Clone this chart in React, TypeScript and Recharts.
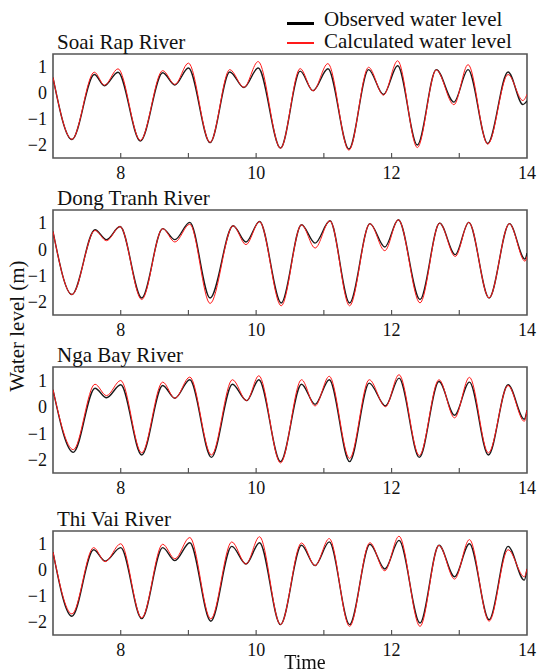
import React from 'react'
import { LineChart, Line, XAxis, YAxis, ReferenceArea, ReferenceLine } from 'recharts'

// extremum times (days) and water levels (m)
const soaiTime = [7.0, 7.28, 7.61, 7.76, 7.96, 8.29, 8.62, 8.8, 9.0, 9.32, 9.61, 9.82, 10.03, 10.36, 10.65, 10.84, 11.06, 11.37, 11.66, 11.88, 12.09, 12.38, 12.66, 12.92, 13.13, 13.42, 13.72, 13.94, 14.0]
const soaiObs = [0.59, -1.79, 0.71, 0.28, 0.8, -1.85, 0.78, 0.31, 0.96, -1.91, 0.81, 0.21, 0.96, -2.12, 0.84, 0.09, 0.93, -2.16, 0.9, -0.06, 1.05, -2.0, 0.9, -0.35, 0.9, -1.94, 0.81, -0.44, -0.3]
const soaiCalc = [0.6, -1.78, 0.8, 0.3, 0.93, -1.82, 0.86, 0.33, 1.15, -1.9, 0.9, 0.22, 1.21, -2.13, 0.94, 0.08, 1.13, -2.2, 0.99, -0.08, 1.24, -2.1, 0.89, -0.45, 1.09, -1.97, 0.71, -0.29, -0.05]

const dongTime = [7.0, 7.28, 7.62, 7.79, 7.99, 8.31, 8.62, 8.8, 9.02, 9.32, 9.66, 9.85, 10.05, 10.37, 10.67, 10.87, 11.09, 11.38, 11.68, 11.9, 12.1, 12.42, 12.71, 12.94, 13.14, 13.44, 13.74, 13.97, 14.0]
const dongObs = [0.68, -1.72, 0.75, 0.37, 0.87, -1.85, 0.79, 0.37, 1.03, -1.85, 0.9, 0.28, 1.06, -2.04, 0.94, 0.24, 1.09, -2.04, 0.98, 0.09, 1.13, -1.91, 1.0, -0.2, 1.03, -1.85, 0.98, -0.37, -0.14]
const dongCalc = [0.68, -1.72, 0.72, 0.33, 0.87, -1.91, 0.79, 0.28, 0.96, -2.06, 0.9, 0.18, 1.06, -2.15, 0.94, 0.05, 1.09, -2.15, 0.98, -0.05, 1.13, -2.04, 1.0, -0.27, 1.03, -1.85, 0.98, -0.45, -0.27]

const ngaTime = [7.0, 7.3, 7.62, 7.79, 8.0, 8.31, 8.62, 8.8, 9.02, 9.34, 9.65, 9.86, 10.04, 10.36, 10.67, 10.87, 11.08, 11.38, 11.67, 11.91, 12.11, 12.41, 12.7, 12.93, 13.15, 13.43, 13.72, 13.96, 14.0]
const ngaObs = [0.64, -1.72, 0.7, 0.34, 0.83, -1.82, 0.8, 0.32, 1.02, -1.91, 0.85, 0.23, 1.02, -2.07, 0.85, 0.09, 1.02, -2.07, 0.89, 0.03, 1.08, -1.91, 0.95, -0.32, 0.93, -1.82, 0.83, -0.47, -0.13]
const ngaCalc = [0.64, -1.62, 0.85, 0.42, 0.99, -1.74, 0.93, 0.32, 1.12, -1.82, 1.02, 0.23, 1.17, -2.12, 1.02, 0.03, 1.15, -1.95, 1.02, 0.0, 1.21, -1.84, 1.02, -0.42, 1.11, -1.74, 0.8, -0.55, -0.13]

const thiTime = [7.0, 7.28, 7.6, 7.77, 8.0, 8.31, 8.62, 8.8, 9.02, 9.33, 9.64, 9.85, 10.05, 10.36, 10.67, 10.87, 11.08, 11.38, 11.68, 11.9, 12.11, 12.42, 12.7, 12.93, 13.15, 13.44, 13.72, 13.96, 14.0]
const thiObs = [0.69, -1.78, 0.78, 0.34, 0.86, -1.87, 0.86, 0.36, 1.05, -1.97, 0.91, 0.23, 1.05, -2.1, 0.95, 0.17, 1.08, -2.1, 0.99, 0.04, 1.14, -2.04, 0.95, -0.26, 1.01, -1.91, 0.91, -0.39, 0.04]
const thiCalc = [0.69, -1.69, 0.86, 0.32, 1.01, -1.84, 0.99, 0.43, 1.25, -1.88, 1.08, 0.23, 1.28, -2.1, 1.04, 0.17, 1.21, -2.17, 1.05, -0.03, 1.3, -2.17, 0.95, -0.35, 1.17, -1.97, 0.78, -0.26, 0.04]

const xLabelTicks = [8, 10, 12, 14]
const xMinorTicks = [8, 9, 10, 11, 12, 13]
const yTicks = [-2, -1, 0, 1]
const xDomain: [number, number] = [7, 14]
const yDomain: [number, number] = [-2.5, 1.5]

const font = '"Liberation Serif", "Times New Roman", serif'

const toPoints = (t: number[], v: number[]) => t.map((x, i) => ({ t: x, v: v[i] }))

const panels = [
  { title: 'Soai Rap River', time: soaiTime, obs: soaiObs, calc: soaiCalc, top: 54, h: 104 },
  { title: 'Dong Tranh River', time: dongTime, obs: dongObs, calc: dongCalc, top: 210, h: 105 },
  { title: 'Nga Bay River', time: ngaTime, obs: ngaObs, calc: ngaCalc, top: 367, h: 106 },
  { title: 'Thi Vai River', time: thiTime, obs: thiObs, calc: thiCalc, top: 531, h: 104 },
]

// serif tick text, minus sign as in the figure
const SerifTick = (props: any) => {
  const { x, y, payload, textAnchor, orientation } = props
  const label = String(payload.value).replace('-', '\u2212')
  return (
    <text x={x} y={y} textAnchor={textAnchor} dy={orientation === 'left' ? '0.35em' : '0.71em'}
      style={{ fontFamily: font, fontSize: 18, fill: '#111' }}>
      {label}
    </text>
  )
}

const Panel = ({ p }: { p: typeof panels[number] }) => {
  const padTop = 10
  const tickLen = 5 / (p.h / (yDomain[1] - yDomain[0]))
  return (
    <div style={{ position: 'absolute', left: 0, top: p.top - padTop, width: 540 }}>
      <LineChart width={540} height={p.h + padTop + 32} margin={{ top: padTop, right: 13, bottom: 0, left: 13 }}>
        <XAxis dataKey="t" type="number" domain={xDomain} ticks={xLabelTicks} allowDataOverflow interval={0}
          tickLine={false} tickSize={0} axisLine={false} tickMargin={8} height={32} tick={<SerifTick />} />
        <YAxis type="number" domain={yDomain} ticks={yTicks} allowDataOverflow width={40} interval={0}
          tickLine={false} tickSize={0} axisLine={false} tickMargin={6} tick={<SerifTick />} />
        <ReferenceArea x1={xDomain[0]} x2={xDomain[1]} y1={yDomain[0]} y2={yDomain[1]}
          fill="none" fillOpacity={0} stroke="#555" strokeWidth={1.6} ifOverflow="visible" />
        {xMinorTicks.map(x => (
          <ReferenceLine key={x} segment={[{ x, y: yDomain[0] }, { x, y: yDomain[0] + tickLen }]}
            stroke="#555" strokeWidth={1.2} ifOverflow="visible" />
        ))}
        <Line data={toPoints(p.time, p.obs)} dataKey="v" type="monotone" stroke="#1a1a1a" strokeWidth={1.4}
          dot={false} isAnimationActive={false} />
        <Line data={toPoints(p.time, p.calc)} dataKey="v" type="monotone" stroke="#ff1a1a" strokeWidth={1}
          dot={false} isAnimationActive={false} />
      </LineChart>
      <div style={{ position: 'absolute', left: 57, top: padTop - 21, fontSize: 21, lineHeight: '19px', whiteSpace: 'nowrap', color: '#111' }}>
        {p.title}
      </div>
    </div>
  )
}

export default function App() {
  return (
    <div style={{ position: 'fixed', left: 0, top: 0, width: 540, height: 672, background: '#fff', fontFamily: font }}>
      {/* legend */}
      <div style={{ position: 'absolute', left: 287, top: 22, width: 27, height: 3, background: '#000' }} />
      <div style={{ position: 'absolute', left: 324, top: 10, fontSize: 21, lineHeight: '19px', whiteSpace: 'nowrap', color: '#111' }}>Observed water level</div>
      <div style={{ position: 'absolute', left: 287, top: 42, width: 27, height: 1.5, background: '#ff1a1a' }} />
      <div style={{ position: 'absolute', left: 324, top: 32, fontSize: 21, lineHeight: '19px', whiteSpace: 'nowrap', color: '#111' }}>Calculated water level</div>

      {panels.map(p => <Panel key={p.title} p={p} />)}

      <div style={{ position: 'absolute', left: 17, top: 326, transform: 'translate(-50%, -50%) rotate(-90deg)', fontSize: 21, lineHeight: 1, whiteSpace: 'nowrap', color: '#111' }}>
        Water level (m)
      </div>
      <div style={{ position: 'absolute', left: 305, top: 653, transform: 'translateX(-50%)', fontSize: 20, lineHeight: '18px', whiteSpace: 'nowrap', color: '#111' }}>
        Time
      </div>
    </div>
  )
}
